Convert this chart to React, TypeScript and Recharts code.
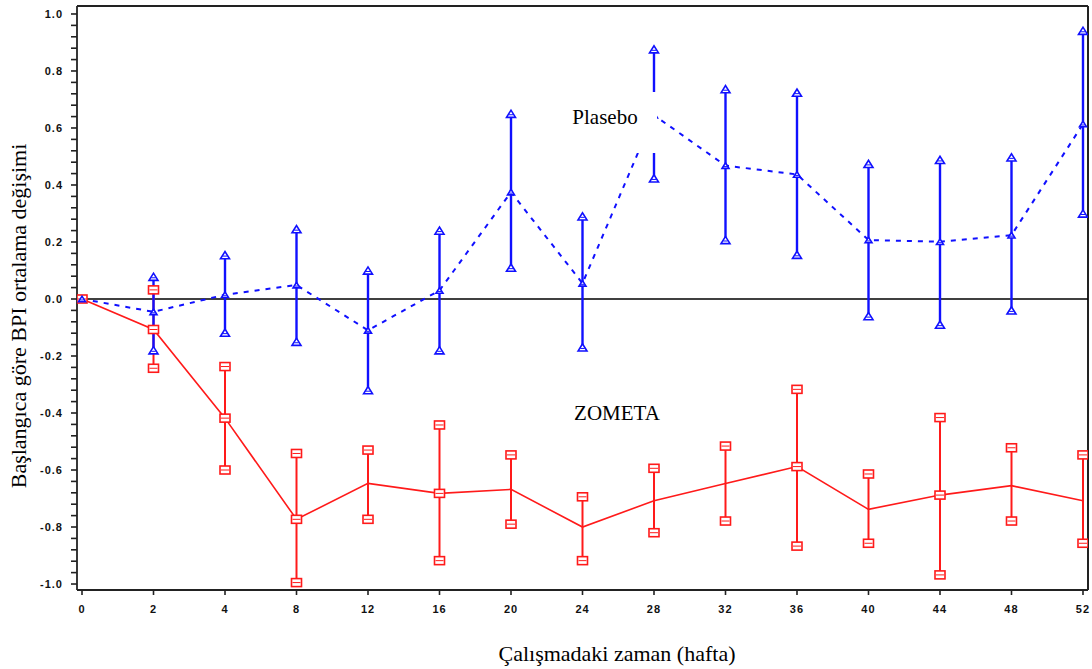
import React from "react";
import {
  ComposedChart,
  Line,
  XAxis,
  YAxis,
  ErrorBar,
  ReferenceLine,
} from "recharts";

const weeks = [0, 2, 4, 8, 12, 16, 20, 24, 28, 32, 36, 40, 44, 48, 52];

const plaseboMean = [0, -0.045, 0.015, 0.049, -0.11, 0.03, 0.375, 0.055, 0.645, 0.468, 0.437, 0.207, 0.201, 0.224, 0.614];
const plaseboUpper = [null, 0.078, 0.154, 0.245, 0.1, 0.24, 0.65, 0.29, 0.876, 0.736, 0.724, 0.474, 0.488, 0.497, 0.941];
const plaseboLower = [null, -0.18, -0.118, -0.15, -0.32, -0.18, 0.11, -0.17, 0.423, 0.207, 0.155, -0.06, -0.09, -0.04, 0.3];

const zometaMean = [0, -0.107, -0.418, -0.773, -0.647, -0.682, -0.668, -0.8, -0.708, -0.647, -0.588, -0.738, -0.688, -0.655, -0.708];
const zometaUpper = [null, 0.032, -0.237, -0.542, -0.53, -0.442, -0.547, -0.694, -0.594, -0.516, -0.317, -0.614, -0.416, -0.522, -0.547];
const zometaLower = [null, -0.243, -0.6, -0.995, -0.773, -0.918, -0.79, -0.918, -0.82, -0.779, -0.867, -0.857, -0.968, -0.779, -0.857];
const zometaMarkedWeeks = [0, 2, 4, 8, 16, 36, 44];

const yMajorTicks = [-1.0, -0.8, -0.6, -0.4, -0.2, 0.0, 0.2, 0.4, 0.6, 0.8, 1.0];
const yMinorStep = 0.04;

const seriesNames = ["Plasebo", "ZOMETA"];
const xTitle = "Çalışmadaki zaman (hafta)";
const yTitle = "Başlangıca göre BPI ortalama değişimi";

const BLUE = "#1010ff";
const RED = "#ff1a1a";

const data = weeks.map((w, i) => ({
  i,
  week: w,
  pMean: plaseboMean[i],
  pUp: plaseboUpper[i],
  pLow: plaseboLower[i],
  zMean: zometaMean[i],
  zUp: zometaUpper[i],
  zLow: zometaLower[i],
}));

const yTicks: number[] = [];
for (let k = 0; k <= 50; k++) yTicks.push(Math.round((-1 + k * yMinorStep) * 1000) / 1000);

const isMajor = (v: number) => yMajorTicks.some((m) => Math.abs(m - v) < 1e-6);

const Tri = ({ cx, cy, size = 9 }: any) => {
  const h = size * 0.8;
  return (
    <g>
      <path
        d={`M${cx - size / 2},${cy + h / 2} L${cx},${cy - h / 2} L${cx + size / 2},${cy + h / 2} Z`}
        fill="#fff"
        stroke={BLUE}
        strokeWidth={1.6}
      />
      <line x1={cx - size / 4} x2={cx + size / 4} y1={cy + 1} y2={cy + 1} stroke={BLUE} strokeWidth={1} />
    </g>
  );
};

const Sq = ({ cx, cy, w = 10, h = 8 }: any) => (
  <g>
    <rect x={cx - w / 2} y={cy - h / 2} width={w} height={h} fill="#fff" stroke={RED} strokeWidth={1.6} />
    <line x1={cx - w / 2 + 1} x2={cx + w / 2 - 1} y1={cy} y2={cy} stroke={RED} strokeWidth={1} />
  </g>
);

const triDot = (props: any) => {
  const { cx, cy, index } = props;
  if (cx == null || cy == null || props.value == null) return <g key={`t${index}`} />;
  return <Tri key={`t${index}`} cx={cx} cy={cy} />;
};
const triMeanDot = (props: any) => {
  const { cx, cy, index } = props;
  if (cx == null || cy == null || props.value == null) return <g key={`tm${index}`} />;
  return <Tri key={`tm${index}`} cx={cx} cy={cy} size={7} />;
};
const sqDot = (props: any) => {
  const { cx, cy, index } = props;
  if (cx == null || cy == null || props.value == null) return <g key={`s${index}`} />;
  return <Sq key={`s${index}`} cx={cx} cy={cy} />;
};
const sqMeanDot = (props: any) => {
  const { cx, cy, index, payload } = props;
  if (cx == null || cy == null || !zometaMarkedWeeks.includes(payload.week)) return <g key={`sm${index}`} />;
  return <Sq key={`sm${index}`} cx={cx} cy={cy} />;
};

const tickStyle = {
  fontSize: 11,
  fontWeight: 700,
  fill: "#111",
  fontFamily: "Liberation Sans, Arial, sans-serif",
  letterSpacing: 1,
};

const Y_DOMAIN: [number, number] = [-1.021, 1.028];
const X_DOMAIN: [number, number] = [-0.07, 14.07];

export default function App() {
  return (
    <div style={{ position: "relative", width: 1092, height: 669, background: "#fff" }}>
      <style>{"body{margin:0;background:#fff}"}</style>
      <ComposedChart
        width={1092}
        height={669}
        data={data}
        margin={{ top: 6, right: 4, bottom: 49, left: 0 }}
      >
        <XAxis
          dataKey="i"
          type="number"
          domain={X_DOMAIN}
          allowDataOverflow
          ticks={weeks.map((_, i) => i)}
          interval={0}
          tickFormatter={(v: number) => String(weeks[v])}
          height={30}
          tickSize={5}
          tickMargin={10}
          stroke="#222"
          strokeWidth={1.8}
          tick={tickStyle}
          tickLine={{ stroke: "#222", strokeWidth: 1.6 }}
        />
        <YAxis
          type="number"
          domain={Y_DOMAIN}
          allowDataOverflow
          ticks={yTicks}
          interval={0}
          tickFormatter={(v: number) => (isMajor(v) ? v.toFixed(1) : "")}
          width={77}
          tickSize={6}
          tickMargin={8}
          stroke="#222"
          strokeWidth={1.8}
          tick={tickStyle}
          tickLine={{ stroke: "#222", strokeWidth: 1.6 }}
        />
        <ReferenceLine y={Y_DOMAIN[1]} stroke="#222" strokeWidth={2} ifOverflow="visible" />
        <ReferenceLine x={X_DOMAIN[1]} stroke="#222" strokeWidth={2} ifOverflow="visible" />
        <ReferenceLine y={0} stroke="#000" strokeWidth={1.5} />

        <Line
          dataKey="zMean"
          stroke={RED}
          strokeWidth={1.6}
          isAnimationActive={false}
          dot={sqMeanDot}
          activeDot={false}
          legendType="none"
        >
          <ErrorBar
            dataKey={(d: any) => (d.zLow == null ? [0, 0] : [d.zMean - d.zLow, d.zUp - d.zMean])}
            width={0}
            stroke={RED}
            strokeWidth={2}
            direction="y"
          />
        </Line>
        <Line dataKey="zUp" stroke="none" strokeWidth={0} isAnimationActive={false} dot={sqDot} activeDot={false} legendType="none" />
        <Line dataKey="zLow" stroke="none" strokeWidth={0} isAnimationActive={false} dot={sqDot} activeDot={false} legendType="none" />

        <Line
          dataKey="pMean"
          stroke={BLUE}
          strokeWidth={2}
          strokeDasharray="5 6"
          isAnimationActive={false}
          dot={triMeanDot}
          activeDot={false}
          legendType="none"
        >
          <ErrorBar
            dataKey={(d: any) => (d.pLow == null ? [0, 0] : [d.pMean - d.pLow, d.pUp - d.pMean])}
            width={0}
            stroke={BLUE}
            strokeWidth={2.4}
            direction="y"
          />
        </Line>
        <Line dataKey="pUp" stroke="none" strokeWidth={0} isAnimationActive={false} dot={triDot} activeDot={false} legendType="none" />
        <Line dataKey="pLow" stroke="none" strokeWidth={0} isAnimationActive={false} dot={triDot} activeDot={false} legendType="none" />
      </ComposedChart>

      <svg
        width={1092}
        height={669}
        style={{ position: "absolute", left: 0, top: 0, pointerEvents: "none" }}
      >
        <rect x={560} y={92} width={97} height={61} fill="#fff" />
        <text x={605} y={124} textAnchor="middle" fontFamily="Liberation Serif, Times New Roman, serif" fontSize={21} fill="#000">
          {seriesNames[0]}
        </text>
        <rect x={552} y={390} width={130} height={55} fill="#fff" />
        <text x={617} y={420} textAnchor="middle" fontFamily="Liberation Serif, Times New Roman, serif" fontSize={21} fill="#000">
          {seriesNames[1]}
        </text>
        <text x={617} y={661} textAnchor="middle" fontFamily="Liberation Serif, Times New Roman, serif" fontSize={22} fill="#000">
          {xTitle}
        </text>
        <text
          x={0}
          y={0}
          transform="translate(26,316) rotate(-90)"
          textAnchor="middle"
          fontFamily="Liberation Serif, Times New Roman, serif"
          fontSize={22}
          fill="#000"
        >
          {yTitle}
        </text>
      </svg>
    </div>
  );
}
